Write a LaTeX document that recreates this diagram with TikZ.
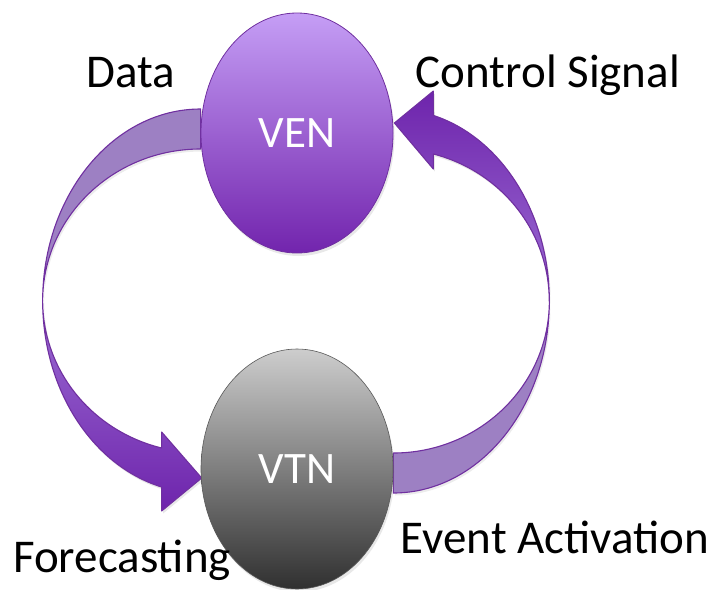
\documentclass[tikz,border=0pt]{standalone}
\usepackage{fontspec}
\setmainfont{Carlito}
\usetikzlibrary{calc,backgrounds,shadows,shapes.geometric}

\definecolor{plum}{HTML}{7030A0}
\definecolor{plumdark}{HTML}{6E24AC}
\definecolor{plumlight}{HTML}{9C6ED4}
\definecolor{plumback}{HTML}{9D80C3}
\definecolor{venhi}{HTML}{C59EF5}
\definecolor{venlo}{HTML}{7224AD}
\definecolor{vtnhi}{HTML}{CDCDCD}
\definecolor{vtnlo}{HTML}{303030}

\tikzset{
  big/.style={font=\fontsize{47}{56}\selectfont},
  agent/.style={ellipse, minimum width=192pt, minimum height=240pt, inner sep=0pt,
    text=white, font=\fontsize{45}{54}\selectfont,
    drop shadow={opacity=0.18, shadow xshift=1.5pt, shadow yshift=-3pt}},
  ven/.style={agent, draw=plum, line width=0.8pt, top color=venhi, bottom color=venlo},
  vtn/.style={agent, draw=gray!70!black, line width=0.6pt, top color=vtnhi, bottom color=vtnlo},
  backface/.style={draw=plum, line width=1.1pt, fill=plumback, line join=round,
    drop shadow={opacity=0.15, shadow xshift=1.5pt, shadow yshift=-2.5pt}},
  frontface/.style={draw=plum, line width=1.1pt, line join=round,
    drop shadow={opacity=0.18, shadow xshift=1.5pt, shadow yshift=-2.5pt}},
}

\begin{document}
\begin{tikzpicture}[x=1pt,y=-1pt]
  \useasboundingbox (0,0) rectangle (714,589);

  \node[ven] at (297,133) (ven) {VEN};
  \node[vtn] at (297,469) (vtn) {VTN};

  \coordinate (lc) at ($(ven.west)!0.5!(vtn.west)$);
  \coordinate (rc) at ($(ven.east)!0.5!(vtn.east)$);

  \begin{scope}[on background layer]
    % data: VEN -> VTN
    \draw[backface] ($(lc)+(0,-192)$)
      arc[start angle=270, end angle=180, x radius=158, y radius=192]
      arc[start angle=180, end angle=270, x radius=158, y radius=152] -- cycle;
    \draw[frontface, top color=plumlight, bottom color=plumdark] ($(lc)+(-158,0)$)
      arc[start angle=180, end angle=104.3, x radius=158, y radius=192]
      -- ($(lc)+(-39,210)$) -- ($(vtn.west)+(1,9)$) -- ($(lc)+(-39,131)$)
      -- ($(lc)+(-39,147)$)
      arc[start angle=104.3, end angle=180, x radius=158, y radius=152] -- cycle;

    % control signal: VTN -> VEN
    \draw[backface] ($(rc)+(0,192)$)
      arc[start angle=90, end angle=0, x radius=156, y radius=192]
      arc[start angle=0, end angle=90, x radius=156, y radius=152] -- cycle;
    \draw[frontface, top color=plumdark, bottom color=plumlight] ($(rc)+(156,0)$)
      arc[start angle=0, end angle=-75.1, x radius=156, y radius=192]
      -- ($(rc)+(40,-210)$) -- ($(ven.east)+(1,-10)$) -- ($(rc)+(40,-132)$)
      -- ($(rc)+(40,-147)$)
      arc[start angle=-75.1, end angle=0, x radius=156, y radius=152] -- cycle;
  \end{scope}

  \node[big, anchor=base] at (131,87) (data) {Data};
  \node[big, anchor=base] at (548,87) (ctrl) {Control Signal};
  \node[big, anchor=base] at (122,572) (fcst) {Forecasting};
  \node[big, anchor=base] at (555,553) (evnt) {Event Activation};
\end{tikzpicture}
\end{document}
